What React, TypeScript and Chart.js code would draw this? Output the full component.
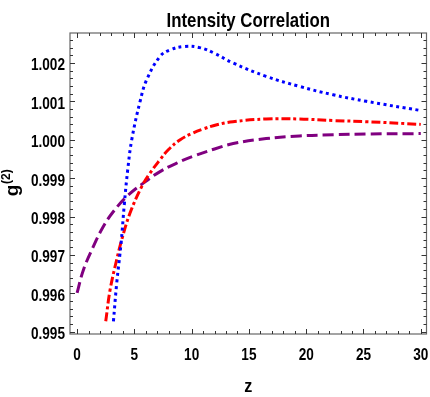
import React, { useEffect, useRef } from "react";
import { Chart, registerables } from "chart.js";

Chart.register(...registerables);

const titleText = "Intensity Correlation";
const xLabel = "z";
const yLabelMain = "g";
const yLabelSup = "(2)";

const xTicks = [0, 5, 10, 15, 20, 25, 30];
const xTickLabels = ["0", "5", "10", "15", "20", "25", "30"];
const yTicks = [0.995, 0.996, 0.997, 0.998, 0.999, 1.0, 1.001, 1.002];
const yTickLabels = ["0.995", "0.996", "0.997", "0.998", "0.999", "1.000", "1.001", "1.002"];

const blueZ = [3.17, 3.46, 3.84, 4.13, 4.42, 4.77, 5.5, 6.07, 7.24, 8.1, 9.4, 10.7, 12, 13.6, 16.5, 19.4, 22.35, 25.26, 30];
const blueG = [0.99527, 0.99627, 0.99731, 0.99835, 0.99922, 1.0, 1.001, 1.00156, 1.00217, 1.00234, 1.00243, 1.0024, 1.00225, 1.002, 1.00165, 1.00139, 1.00117, 1.001, 1.00076];

const redZ = [2.5, 2.88, 3.46, 3.9, 4.62, 5.64, 6.36, 7.24, 7.96, 9.0, 10.0, 11.0, 12.2, 13.6, 16.5, 19.4, 22.35, 25.26, 30];
const redG = [0.99527, 0.99609, 0.99688, 0.9974, 0.99809, 0.99878, 0.99913, 0.99948, 0.99974, 1.0, 1.00016, 1.00028, 1.00039, 1.00047, 1.00054, 1.00054, 1.0005, 1.00047, 1.0004];

const purpleZ = [0, 0.55, 1.42, 2.29, 3.17, 4.33, 5.78, 7.24, 8.69, 10.14, 12, 13.63, 16.5, 19.4, 22.35, 25.26, 30];
const purpleG = [0.99601, 0.99661, 0.99722, 0.99774, 0.99813, 0.99852, 0.99887, 0.99917, 0.99939, 0.99957, 0.99976, 0.9999, 1.00003, 1.0001, 1.00013, 1.00015, 1.00016];

const FONT = "'Liberation Sans', Arial, sans-serif";

const toPts = (xs: number[], ys: number[]) => xs.map((x, i) => ({ x, y: ys[i] }));

function narrowText(ctx: any, text: string, x: number, y: number, sx: number, align: string) {
  ctx.save();
  ctx.translate(x, y);
  ctx.scale(sx, 1);
  ctx.textAlign = align;
  ctx.fillText(text, 0, 0);
  ctx.restore();
}

const framePlugin = {
  id: "frameTicks",
  afterDraw(chart: any) {
    const { ctx, chartArea } = chart;
    const xs = chart.scales.x;
    const ys = chart.scales.y;
    const { left, right, top, bottom } = chartArea;
    ctx.save();
    ctx.strokeStyle = "#666";
    ctx.lineWidth = 1.2;
    ctx.strokeRect(left, top, right - left, bottom - top);
    ctx.strokeStyle = "#333";
    ctx.lineWidth = 1;
    ctx.beginPath();
    for (let v = 0; v <= 30; v += 1) {
      const px = Math.round(xs.getPixelForValue(v)) + 0.5;
      const len = v % 5 === 0 ? 5 : 3;
      ctx.moveTo(px, bottom);
      ctx.lineTo(px, bottom - len);
      ctx.moveTo(px, top);
      ctx.lineTo(px, top + len);
    }
    for (let k = 0; k <= 38; k++) {
      const v = 0.995 + k * 0.0002;
      if (v > ys.max) break;
      const py = Math.round(ys.getPixelForValue(v)) + 0.5;
      const len = k % 5 === 0 ? 5 : 3;
      ctx.moveTo(left, py);
      ctx.lineTo(left + len, py);
      ctx.moveTo(right, py);
      ctx.lineTo(right - len, py);
    }
    ctx.stroke();

    ctx.fillStyle = "#000";
    ctx.textBaseline = "alphabetic";
    // tick labels
    ctx.font = `bold 17px ${FONT}`;
    xTicks.forEach((v, i) => {
      narrowText(ctx, xTickLabels[i], xs.getPixelForValue(v), 360, 0.8, "center");
    });
    yTicks.forEach((v, i) => {
      narrowText(ctx, yTickLabels[i], left - 5, ys.getPixelForValue(v) + 7.5, 0.8, "right");
    });

    // title
    ctx.font = `bold 21px ${FONT}`;
    narrowText(ctx, titleText, (left + right) / 2, 26.5, 0.8, "center");

    // x axis title
    ctx.font = `bold 19px ${FONT}`;
    narrowText(ctx, xLabel, (left + right) / 2, 391.5, 0.85, "center");

    // y axis title
    ctx.translate(18, 183);
    ctx.rotate(-Math.PI / 2);
    ctx.textAlign = "left";
    ctx.font = `bold 19px ${FONT}`;
    const wMain = ctx.measureText(yLabelMain).width;
    ctx.font = `bold 12px ${FONT}`;
    const wSup = ctx.measureText(yLabelSup).width;
    const start = -(wMain + wSup) / 2;
    ctx.font = `bold 19px ${FONT}`;
    ctx.fillText(yLabelMain, start, 0);
    ctx.font = `bold 12px ${FONT}`;
    ctx.fillText(yLabelSup, start + wMain + 0.5, -8);
    ctx.restore();
  },
};

export default function App() {
  const ref = useRef<HTMLCanvasElement | null>(null);
  useEffect(() => {
    if (!ref.current) return;
    const common = {
      fill: false,
      pointRadius: 0,
      borderWidth: 3,
      tension: 0.4,
      borderCapStyle: "butt" as const,
    };
    const chart = new Chart(ref.current, {
      type: "line",
      data: {
        datasets: [
          { ...common, label: "blue", data: toPts(blueZ, blueG), borderColor: "#0000ff", borderDash: [3, 3.5] },
          { ...common, label: "red", data: toPts(redZ, redG), borderColor: "#ff0000", borderDash: [9, 3, 3, 3] },
          { ...common, label: "purple", data: toPts(purpleZ, purpleG), borderColor: "#800080", borderDash: [11, 5] },
        ],
      },
      options: {
        animation: false,
        responsive: false,
        devicePixelRatio: 1,
        layout: { padding: { left: 0, right: 3.5, top: 33, bottom: 0 } },
        plugins: {
          legend: { display: false },
          tooltip: { enabled: false },
          title: { display: false },
        },
        scales: {
          x: {
            type: "linear",
            min: -0.62,
            max: 30.5,
            border: { display: false },
            grid: { display: false, drawTicks: false },
            afterBuildTicks: (s: any) => {
              s.ticks = xTicks.map((v) => ({ value: v }));
            },
            afterFit: (s: any) => {
              s.height = 63;
            },
            ticks: { display: false },
          },
          y: {
            type: "linear",
            min: 0.99494,
            max: 1.00278,
            border: { display: false },
            grid: { display: false, drawTicks: false },
            afterBuildTicks: (s: any) => {
              s.ticks = yTicks.map((v) => ({ value: v }));
            },
            afterFit: (s: any) => {
              s.width = 70;
            },
            ticks: { display: false },
          },
        },
      },
      plugins: [framePlugin],
    } as any);
    return () => chart.destroy();
  }, []);
  return (
    <div style={{ position: "fixed", left: 0, top: 0, width: 430, height: 397, background: "#fff" }}>
      <canvas ref={ref} width={430} height={397} style={{ width: 430, height: 397, display: "block" }} />
    </div>
  );
}
